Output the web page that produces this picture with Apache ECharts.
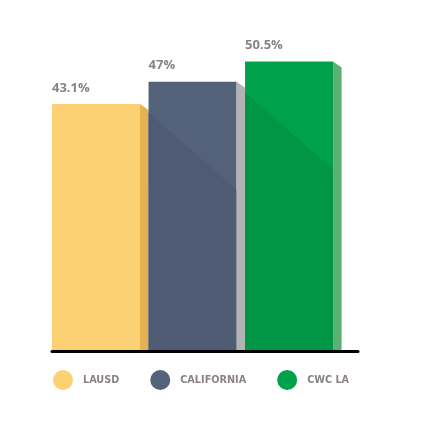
<!DOCTYPE html>
<html>
<head>
<meta charset="utf-8">
<script src="https://cdn.jsdelivr.net/npm/echarts@6/dist/echarts.min.js"></script>
<style>
  html, body { margin: 0; padding: 0; background: #fff; }
  #chart { width: 435px; height: 435px; }
</style>
</head>
<body>
<div id="chart"></div>
<script>
// chart data
var groups = ['LAUSD', 'CALIFORNIA', 'CWC LA']
var values = [43.1, 47, 50.5]
var frontColors = ['#fcd173', '#536179', '#00a14b']
var shadeColors = ['#fcd173', '#4e5b72', '#009646']
var sideColors = ['#e4b24f', '#b3b3b3', '#5bb172']

var textGray = '#8b8282'

// front face + 3d side + diagonal shade + value label
function renderBar(params, api) {
  var i = api.value(0)
  var v = api.value(1)
  var top = api.coord([i, v])
  var base = api.coord([i, 0])
  var band = api.size([1, 0])[0]
  var left = top[0] - band / 2
  var fw = band * 0.912
  var right = left + fw
  var sideR = left + band
  var y0 = top[1]
  var y1 = base[1] - 1
  return {
    type: 'group',
    children: [
      {
        type: 'rect',
        shape: { x: left, y: y0, width: fw, height: y1 - y0 },
        style: { fill: frontColors[i] }
      },
      {
        type: 'polygon',
        shape: {
          points: [[left, y0 + 31], [right, y0 + 108], [right, y1], [left, y1]]
        },
        style: { fill: shadeColors[i] }
      },
      {
        type: 'polygon',
        shape: {
          points: [[right, y0], [sideR, y0 + 6], [sideR, y1], [right, y1]]
        },
        style: { fill: sideColors[i] }
      },
      {
        type: 'text',
        style: {
          x: left,
          y: y0 - 16,
          text: v + '%',
          fill: textGray,
          font: 'bold 13px "Open Sans"',
          verticalAlign: 'middle',
          align: 'left'
        }
      }
    ]
  }
}

var chart = echarts.init(document.getElementById('chart'))

chart.setOption({
  animation: false,
  grid: { left: 52, right: 77, top: 7, bottom: 83.5 },
  xAxis: {
    type: 'value',
    min: -0.5,
    max: 2.67,
    axisLine: { show: true, onZero: false, lineStyle: { color: '#000', width: 3 } },
    axisTick: { show: false },
    axisLabel: { show: false },
    splitLine: { show: false },
    z: 5
  },
  yAxis: {
    type: 'value',
    min: 0,
    max: 60,
    show: false,
    splitLine: { show: false }
  },
  legend: {
    left: 53,
    top: 370,
    padding: 0,
    icon: 'circle',
    itemWidth: 20,
    itemHeight: 20,
    itemGap: 31,
    data: groups,
    textStyle: {
      color: textGray,
      fontFamily: 'DejaVu Sans',
      fontWeight: 'bold',
      fontSize: 9.7,
      padding: [0, 0, 0, 5]
    }
  },
  series: groups.map(function (name, i) {
    return {
      type: 'custom',
      name: name,
      itemStyle: { color: frontColors[i] },
      renderItem: renderBar,
      encode: { x: 0, y: 1 },
      data: [[i, values[i]]]
    }
  })
})
</script>
</body>
</html>
